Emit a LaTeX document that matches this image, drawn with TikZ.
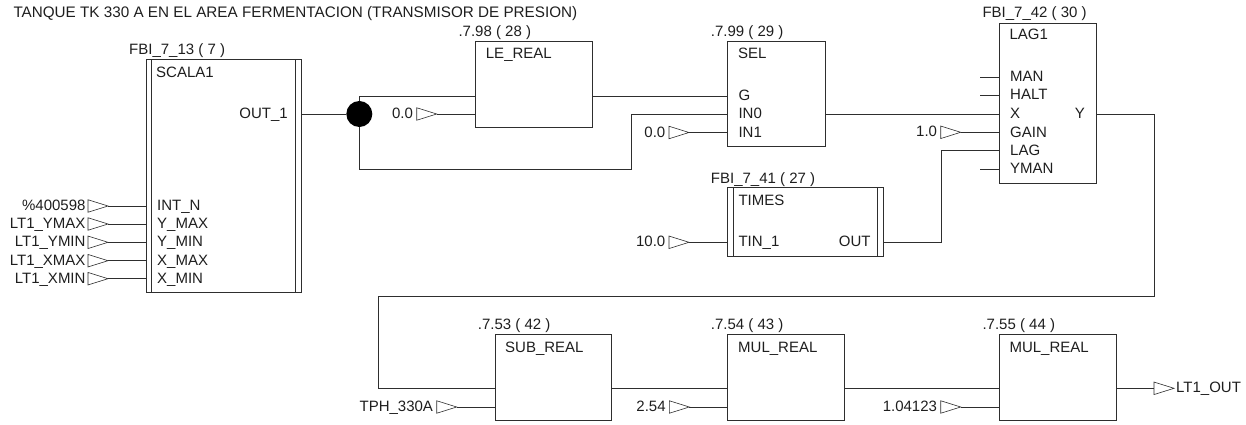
\documentclass[tikz,border=0pt]{standalone}
\usepackage{fontspec}
\setmainfont{Liberation Sans}
\usetikzlibrary{shapes.geometric,positioning}
\definecolor{cLine}{HTML}{2E2E2E}
\definecolor{cText}{HTML}{1E1E1E}

\begin{document}
\begin{tikzpicture}[
  x=1pt, y=-1pt,
  fblock/.style={
    draw=cLine, line width=0.9pt, anchor=north west,
    inner sep=0, outer sep=0
  },
  lbl/.style={anchor=base west, inner sep=0, text=cText, font=\fontsize{15}{17}\selectfont},
  val/.style={inner sep=0, text=cText, text height=10pt, text depth=1pt, font=\fontsize{15}{17}\selectfont},
  tri/.style={
    isosceles triangle, isosceles triangle stretches, shape border rotate=0,
    draw=cLine, line width=0.6pt, minimum width=12.5pt, minimum height=20pt,
    inner sep=0, outer sep=0, anchor=apex
  },
  wire/.style={draw=cLine, line width=0.9pt},
]
\useasboundingbox (0,0) rectangle (1246,425);
% Title
\node[lbl,font=\fontsize{15.25}{17}\selectfont] (title) at (13.3,17.7) {TANQUE TK 330 A EN EL AREA FERMENTACION (TRANSMISOR DE PRESION)};
% Blocks
\node[fblock,minimum width=155.4pt,minimum height=232.8pt] (S) at (146.3,59.8) {};
\node[fblock,minimum width=116.6pt,minimum height=86pt] (LE) at (475.7,41.7) {};
\node[fblock,minimum width=97.3pt,minimum height=104.3pt] (SEL) at (727.7,41.7) {};
\node[fblock,minimum width=97pt,minimum height=159.7pt] (LAG) at (999.7,23.3) {};
\node[fblock,minimum width=156pt,minimum height=68.6pt] (T) at (727.7,187.7) {};
\node[fblock,minimum width=116.7pt,minimum height=86.3pt] (SUB) at (495,334) {};
\node[fblock,minimum width=116.6pt,minimum height=86.3pt] (M1) at (727.7,334) {};
\node[fblock,minimum width=116.7pt,minimum height=86.3pt] (M2) at (999.3,334) {};
% Double sides
\draw[wire] ([xshift=5.2pt]S.north west) -- ([xshift=5.2pt]S.south west);
\draw[wire] ([xshift=-5.8pt]S.north east) -- ([xshift=-5.8pt]S.south east);
\draw[wire] ([xshift=5.8pt]T.north west) -- ([xshift=5.8pt]T.south west);
\draw[wire] ([xshift=-6.2pt]T.north east) -- ([xshift=-6.2pt]T.south east);
% Block titles
\node[lbl] (tS) at (129,55) {FBI\_7\_13 ( 7 )};
\node[lbl] (tLE) at (458.3,36.5) {.7.98 ( 28 )};
\node[lbl] (tSEL) at (710.7,36.5) {.7.99 ( 29 )};
\node[lbl] (tLAG) at (982.3,18) {FBI\_7\_42 ( 30 )};
\node[lbl] (tT) at (710.7,183) {FBI\_7\_41 ( 27 )};
\node[lbl] (tSUB) at (477.7,329) {.7.53 ( 42 )};
\node[lbl] (tM1) at (710.7,329) {.7.54 ( 43 )};
\node[lbl] (tM2) at (982.3,329) {.7.55 ( 44 )};
% Block names
\node[lbl] (nS) at (156,77.5) {SCALA1};
\node[lbl] (nLE) at (485.7,59) {LE\_REAL};
\node[lbl] (nSEL) at (738,59) {SEL};
\node[lbl] (nLAG) at (1009.3,40) {LAG1};
\node[lbl] (nT) at (738.3,205) {TIMES};
\node[lbl] (nSUB) at (505,352) {SUB\_REAL};
\node[lbl] (nM1) at (738,352) {MUL\_REAL};
\node[lbl] (nM2) at (1009.3,352) {MUL\_REAL};
% Pins
\node[lbl] (pInt) at (157,210.5) {INT\_N};
\node[lbl] (pYmax) at (157,228.5) {Y\_MAX};
\node[lbl] (pYmin) at (157,246.5) {Y\_MIN};
\node[lbl] (pXmax) at (157,265) {X\_MAX};
\node[lbl] (pXmin) at (157,283) {X\_MIN};
\node[lbl,anchor=base east] (pOut) at (288,118) {OUT\_1};
\node[lbl] (pG) at (738.3,100.5) {G};
\node[lbl] (pIn0) at (738.3,118.5) {IN0};
\node[lbl] (pIn1) at (738.3,137) {IN1};
\node[lbl] (pMan) at (1010,82) {MAN};
\node[lbl] (pHalt) at (1010,100) {HALT};
\node[lbl] (pX) at (1010,118.5) {X};
\node[lbl] (pGain) at (1010,137) {GAIN};
\node[lbl] (pLag) at (1010,155) {LAG};
\node[lbl] (pYman) at (1010,173.5) {YMAN};
\node[lbl,anchor=base east] (pY) at (1085,118) {Y};
\node[lbl] (pTin) at (738.3,246) {TIN\_1};
\node[lbl,anchor=base east] (pTout) at (870.7,246) {OUT};
% Inputs
\node[tri] (aInt) at (108,206) {};
\node[tri] (aYmax) at (108,224) {};
\node[tri] (aYmin) at (108,242.3) {};
\node[tri] (aXmax) at (108,260.7) {};
\node[tri] (aXmin) at (108,278.7) {};
\node[tri] (aLE) at (436.7,114) {};
\node[tri] (aSEL) at (689,132.5) {};
\node[tri] (aGain) at (960.7,132.3) {};
\node[tri] (aT) at (689,242.3) {};
\node[tri] (aSUB) at (456.7,407) {};
\node[tri] (aM1) at (689.3,407) {};
\node[tri] (aM2) at (960.7,407) {};
\node[tri] (aOut) at (1174,388.3) {};
% Values
\node[val,left=2.3pt of aInt] (vInt) {\%400598};
\node[val,left=2.3pt of aYmax] (vYmax) {LT1\_YMAX};
\node[val,left=2.3pt of aYmin] (vYmin) {LT1\_YMIN};
\node[val,left=2.3pt of aXmax] (vXmax) {LT1\_XMAX};
\node[val,left=2.3pt of aXmin] (vXmin) {LT1\_XMIN};
\node[val,left=3.5pt of aLE] (vLE) {0.0};
\node[val,left=3.5pt of aSEL] (vSEL) {0.0};
\node[val,left=3.5pt of aGain] (vGain) {1.0};
\node[val,left=3.5pt of aT] (vT) {10.0};
\node[val,left=3.5pt of aSUB] (vSUB) {TPH\_330A};
\node[val,left=3.5pt of aM1] (vM1) {2.54};
\node[val,left=3.5pt of aM2] (vM2) {1.04123};
\node[val,right=2pt of aOut.apex] (vOut) {LT1\_OUT};
% Junction
\node[circle,fill=black,inner sep=0,minimum size=26pt] (J) at (359.3,114) {};
% Free ends
\coordinate (eMan) at (980,77.3);
\coordinate (eHalt) at (980,95.7);
\coordinate (eYman) at (980,169);
\coordinate (jLow) at (631,169);
% Wires
\foreach \a in {aInt,aYmax,aYmin,aXmax,aXmin}
  \draw[wire] (\a.apex) -- (\a.apex -| S.west);
\draw[wire] (aLE.apex) -- (aLE.apex -| LE.west);
\draw[wire] (aSEL.apex) -- (aSEL.apex -| SEL.west);
\draw[wire] (aGain.apex) -- (aGain.apex -| LAG.west);
\draw[wire] (aT.apex) -- (aT.apex -| T.west);
\draw[wire] (aSUB.apex) -- (aSUB.apex -| SUB.west);
\draw[wire] (aM1.apex) -- (aM1.apex -| M1.west);
\draw[wire] (aM2.apex) -- (aM2.apex -| M2.west);
\draw[wire] (J -| S.east) -- (J.west);
\draw[wire] (J.north) |- (0,96 -| LE.west);
\draw[wire] (J.south) |- (jLow) |- (aLE.apex -| SEL.west);
\draw[wire] (0,96 -| LE.east) -- (0,96 -| SEL.west);
\draw[wire] (J -| SEL.east) -- (J -| LAG.west);
\draw[wire] (eMan) -- (eMan -| LAG.west);
\draw[wire] (eHalt) -- (eHalt -| LAG.west);
\draw[wire] (eYman) -- (eYman -| LAG.west);
\draw[wire] (aT.apex -| T.east) -| (941,150.7) -- (941,150.7 -| LAG.west);
\draw[wire] (J -| LAG.east) -| (1154.7,296.7) -| (378.7,388.3) -- (378.7,388.3 -| SUB.west);
\draw[wire] (378.7,388.3 -| SUB.east) -- (378.7,388.3 -| M1.west);
\draw[wire] (378.7,388.3 -| M1.east) -- (378.7,388.3 -| M2.west);
\draw[wire] (378.7,388.3 -| M2.east) -- (aOut.west);
\end{tikzpicture}
\end{document}
